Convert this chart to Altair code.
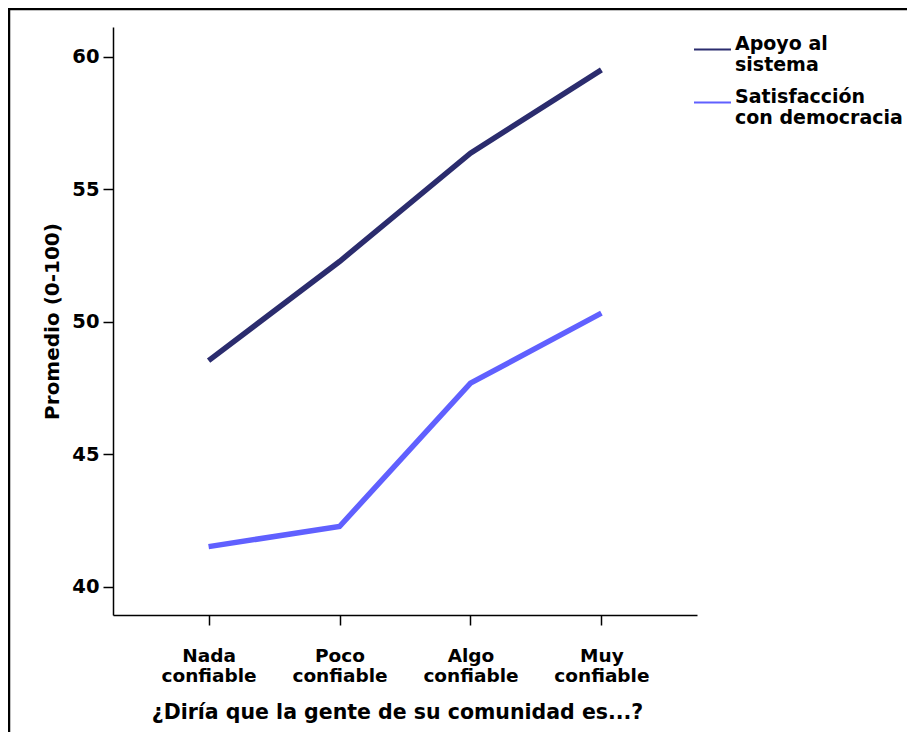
import altair as alt
import pandas as pd

categories = ["Nada|confiable", "Poco|confiable", "Algo|confiable", "Muy|confiable"]
series_names = ["Apoyo al|sistema", "Satisfacción|con democracia"]
apoyo = [48.54, 52.28, 56.37, 59.51]
satisfaccion = [41.52, 42.28, 47.69, 50.33]
series_colors = ["#2b2c6e", "#6060ff"]
y_ticks = [40, 45, 50, 55, 60]

rows = []
for s, vals in zip(series_names, [apoyo, satisfaccion]):
    for c, v in zip(categories, vals):
        rows.append({"cat": c, "serie": s, "valor": v})
df = pd.DataFrame(rows)

FONT = "DejaVu Sans"

lines = alt.Chart(df).mark_line(strokeWidth=5.5, strokeCap="butt", strokeJoin="miter").encode(
    x=alt.X(
        "cat:N",
        sort=categories,
        scale=alt.Scale(type="point", padding=0.73),
        axis=alt.Axis(
            title="¿Diría que la gente de su comunidad es...?",
            labelExpr="split(datum.label, '|')",
            labelAngle=0,
            labelBaseline="top",
            labelPadding=21,
            labelLineHeight=20,
            labelFontSize=18.5,
            tickSize=10,
            titleX=284,
            titleY=97,
            titleBaseline="middle",
            titleAlign="center",
            titleFontSize=20.5,
        ),
    ),
    y=alt.Y(
        "valor:Q",
        scale=alt.Scale(domain=[38.94, 61.13], nice=False, zero=False),
        axis=alt.Axis(
            title="Promedio (0-100)",
            values=y_ticks,
            tickSize=10,
            labelPadding=4,
            labelFontSize=19.5,
            titleX=-61,
            titleY=294,
            titleAngle=-90,
            titleAlign="center",
            titleBaseline="middle",
            titleFontSize=20,
        ),
    ),
    color=alt.Color(
        "serie:N",
        sort=series_names,
        scale=alt.Scale(domain=series_names, range=series_colors),
        legend=alt.Legend(
            orient="none",
            legendX=580,
            legendY=3,
            title=None,
            symbolType="stroke",
            symbolSize=1369,
            symbolStrokeWidth=2,
            labelExpr="split(datum.label, '|')",
            labelBaseline="alphabetic",
            labelOffset=3,
            labelLimit=0,
            rowPadding=8,
        ),
    ),
)

frame_df = pd.DataFrame({"k": [0]})
frame_top = alt.Chart(frame_df).mark_rule(color="black", strokeWidth=2.5).encode(
    x=alt.value(-105), x2=alt.value(810), y=alt.value(-18)
)
frame_left = alt.Chart(frame_df).mark_rule(color="black", strokeWidth=2.5).encode(
    x=alt.value(-104), y=alt.value(-19), y2=alt.value(720)
)

chart = alt.layer(lines, frame_top, frame_left).properties(
    width=584,
    height=588,
    autosize=alt.AutoSizeParams(type="none"),
    padding={"left": 105, "top": 19, "right": 210, "bottom": 117},
).configure_view(stroke=None).configure_axis(
    domainColor="black",
    domainWidth=1.5,
    tickColor="black",
    tickWidth=1.5,
    grid=False,
    labelFont=FONT,
    labelFontWeight="bold",
    labelFontSize=18,
    labelColor="black",
    titleFont=FONT,
    titleFontWeight="bold",
    titleFontSize=19,
    titleColor="black",
).configure_legend(
    labelFont=FONT,
    labelFontWeight="bold",
    labelFontSize=19,
    labelColor="black",
)

chart.save("out.html", embed_options={"renderer": "svg", "actions": False})
